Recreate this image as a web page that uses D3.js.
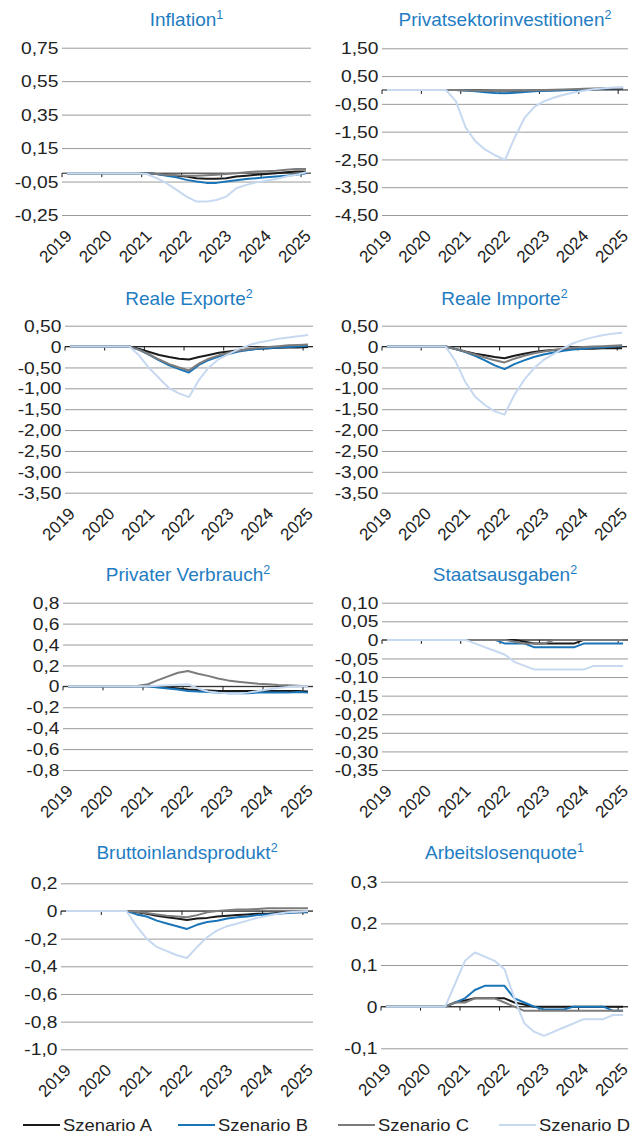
<!DOCTYPE html>
<html>
<head>
<meta charset="utf-8">
<script src="https://cdn.jsdelivr.net/npm/d3@7"></script>
<style>
  body { margin: 0; background: #fff; }
  svg text { font-family: "Liberation Sans", Arial, Helvetica, sans-serif; }
</style>
</head>
<body>
<div id="chart"></div>
<script>

// quarters on the x axis, labels only on the first quarter of each year
var quarters = ["2019Q1","2019Q2","2019Q3","2019Q4","2020Q1","2020Q2","2020Q3","2020Q4",
                "2021Q1","2021Q2","2021Q3","2021Q4","2022Q1","2022Q2","2022Q3","2022Q4",
                "2023Q1","2023Q2","2023Q3","2023Q4","2024Q1","2024Q2","2024Q3","2024Q4","2025Q1"];
var yearLabels = ["2019","2020","2021","2022","2023","2024","2025"];
var scenarios = ["Szenario A","Szenario B","Szenario C","Szenario D"];

// Inflation
var inflTicks  = [0.75, 0.55, 0.35, 0.15, -0.05, -0.25];
var inflLabels = ["0,75","0,55","0,35","0,15","-0,05","-0,25"];
var inflA = [0,0,0,0,0,0,0,0,0,-0.005,-0.01,-0.015,-0.02,-0.03,-0.033,-0.033,-0.03,-0.02,-0.015,-0.01,-0.005,0,0.005,0.01,0.01];
var inflB = [0,0,0,0,0,0,0,0,0,-0.005,-0.015,-0.025,-0.04,-0.05,-0.058,-0.058,-0.05,-0.042,-0.035,-0.03,-0.025,-0.02,-0.015,-0.01,0];
var inflC = [0,0,0,0,0,0,0,0,0,-0.005,-0.01,-0.012,-0.015,-0.015,-0.012,-0.01,-0.005,0,0.005,0.01,0.012,0.015,0.02,0.025,0.025];
var inflD = [0,0,0,0,0,0,0,0,-0.005,-0.03,-0.06,-0.1,-0.14,-0.17,-0.17,-0.16,-0.14,-0.09,-0.07,-0.055,-0.045,-0.035,-0.02,-0.01,0.005];

// Privatsektorinvestitionen
var invTicks  = [1.5, 0.5, -0.5, -1.5, -2.5, -3.5, -4.5];
var invLabels = ["1,50","0,50","-0,50","-1,50","-2,50","-3,50","-4,50"];
var invA = [0,0,0,0,0,0,0,0,-0.01,-0.02,-0.03,-0.04,-0.05,-0.045,-0.035,-0.025,-0.015,-0.01,0,0.01,0.02,0.03,0.04,0.04,0.05];
var invB = [0,0,0,0,0,0,0,0,-0.02,-0.05,-0.08,-0.11,-0.12,-0.1,-0.07,-0.05,-0.03,-0.02,-0.01,0,0.02,0.03,0.05,0.06,0.07];
var invC = [0,0,0,0,0,0,0,0,-0.01,-0.02,-0.03,-0.035,-0.04,-0.03,-0.02,-0.01,0,0.01,0.02,0.03,0.04,0.05,0.06,0.07,0.08];
var invD = [0,0,0,0,0,0,0,-0.4,-1.35,-1.85,-2.15,-2.35,-2.52,-1.7,-1.0,-0.6,-0.4,-0.27,-0.17,-0.09,-0.03,0.03,0.06,0.09,0.1];

// Reale Exporte
var expTicks  = [0.5, 0, -0.5, -1, -1.5, -2, -2.5, -3, -3.5];
var expLabels = ["0,50","0","-0,50","-1,00","-1,50","-2,00","-2,50","-3,00","-3,50"];
var expA = [0,0,0,0,0,0,0,-0.06,-0.13,-0.2,-0.25,-0.29,-0.31,-0.25,-0.2,-0.15,-0.12,-0.09,-0.07,-0.05,-0.04,-0.03,-0.02,-0.02,-0.01];
var expB = [0,0,0,0,0,0,0,-0.08,-0.2,-0.33,-0.45,-0.54,-0.62,-0.44,-0.32,-0.24,-0.18,-0.12,-0.08,-0.055,-0.04,-0.025,-0.01,0,0.02];
var expC = [0,0,0,0,0,0,0,-0.08,-0.19,-0.31,-0.42,-0.5,-0.57,-0.41,-0.29,-0.21,-0.15,-0.1,-0.06,-0.03,-0.01,0.01,0.03,0.04,0.05];
var expD = [0,0,0,0,0,0,0,-0.22,-0.52,-0.76,-1.0,-1.12,-1.21,-0.8,-0.5,-0.3,-0.18,-0.06,0.03,0.1,0.14,0.19,0.22,0.25,0.28];

// Reale Importe
var impTicks  = [0.5, 0, -0.5, -1, -1.5, -2, -2.5, -3, -3.5];
var impLabels = ["0,50","0","-0,50","-1,00","-1,50","-2,00","-2,50","-3,00","-3,50"];
var impA = [0,0,0,0,0,0,0,-0.06,-0.12,-0.17,-0.21,-0.25,-0.28,-0.22,-0.17,-0.13,-0.1,-0.08,-0.07,-0.06,-0.05,-0.05,-0.04,-0.04,-0.04];
var impB = [0,0,0,0,0,0,0,-0.06,-0.13,-0.22,-0.33,-0.45,-0.54,-0.42,-0.33,-0.25,-0.19,-0.14,-0.1,-0.07,-0.05,-0.03,-0.02,0,0.02];
var impC = [0,0,0,0,0,0,0,-0.06,-0.12,-0.19,-0.26,-0.33,-0.38,-0.29,-0.22,-0.16,-0.12,-0.08,-0.05,-0.03,-0.01,0,0.01,0.02,0.03];
var impD = [0,0,0,0,0,0,0,-0.35,-0.85,-1.2,-1.4,-1.55,-1.63,-1.16,-0.8,-0.52,-0.32,-0.18,-0.04,0.08,0.16,0.22,0.27,0.31,0.33];

// Privater Verbrauch
var konTicks  = [0.8, 0.6, 0.4, 0.2, 0, -0.2, -0.4, -0.6, -0.8];
var konLabels = ["0,8","0,6","0,4","0,2","0","-0,2","-0,4","-0,6","-0,8"];
var konA = [0,0,0,0,0,0,0,0,0,-0.005,-0.01,-0.02,-0.03,-0.035,-0.04,-0.045,-0.045,-0.045,-0.045,-0.045,-0.045,-0.045,-0.045,-0.045,-0.05];
var konB = [0,0,0,0,0,0,0,0,0,-0.01,-0.02,-0.03,-0.045,-0.05,-0.055,-0.06,-0.065,-0.065,-0.065,-0.06,-0.06,-0.06,-0.06,-0.055,-0.06];
var konC = [0,0,0,0,0,0,0,0.005,0.02,0.06,0.095,0.13,0.146,0.12,0.1,0.075,0.057,0.045,0.035,0.025,0.02,0.013,0.01,0.005,0];
var konD = [0,0,0,0,0,0,0,0,0,0.005,0.01,0.015,0.02,-0.02,-0.05,-0.06,-0.065,-0.065,-0.06,-0.045,-0.03,-0.015,-0.005,0,0];

// Staatsausgaben (the "-0,02" label is as printed in the source)
var govTicks  = [0.1, 0.05, 0, -0.05, -0.1, -0.15, -0.2, -0.25, -0.3, -0.35];
var govLabels = ["0,10","0,05","0","-0,05","-0,10","-0,15","-0,02","-0,25","-0,30","-0,35"];
var govA = [0,0,0,0,0,0,0,0,0,0,0,0,0,0,-0.005,-0.01,-0.01,-0.01,-0.01,-0.01,0,0,0,0,0];
var govB = [0,0,0,0,0,0,0,0,0,0,0,0,-0.01,-0.01,-0.01,-0.02,-0.02,-0.02,-0.02,-0.02,-0.01,-0.01,-0.01,-0.01,-0.01];
var govC = [0,0,0,0,0,0,0,0,0,0,0,0,0,-0.005,-0.01,-0.01,-0.01,0,0,0,0,0,0,0,0];
var govD = [0,0,0,0,0,0,0,0,0,-0.01,-0.02,-0.03,-0.04,-0.06,-0.07,-0.08,-0.08,-0.08,-0.08,-0.08,-0.08,-0.07,-0.07,-0.07,-0.07];

// Bruttoinlandsprodukt
var gdpTicks  = [0.2, 0, -0.2, -0.4, -0.6, -0.8, -1.0];
var gdpLabels = ["0,2","0","-0,2","-0,4","-0,6","-0,8","-1,0"];
var gdpA = [0,0,0,0,0,0,0,-0.01,-0.02,-0.035,-0.045,-0.055,-0.065,-0.055,-0.05,-0.04,-0.035,-0.03,-0.025,-0.02,-0.02,-0.015,-0.01,-0.01,-0.01];
var gdpB = [0,0,0,0,0,0,0,-0.025,-0.04,-0.07,-0.09,-0.11,-0.13,-0.1,-0.08,-0.07,-0.055,-0.045,-0.04,-0.03,-0.025,-0.02,-0.015,-0.01,-0.005];
var gdpC = [0,0,0,0,0,0,0,-0.005,-0.015,-0.025,-0.035,-0.04,-0.045,-0.03,-0.01,0,0.005,0.01,0.01,0.015,0.02,0.02,0.02,0.02,0.02];
var gdpD = [0,0,0,0,0,0,0,-0.11,-0.2,-0.26,-0.29,-0.32,-0.34,-0.26,-0.19,-0.14,-0.11,-0.09,-0.07,-0.05,-0.035,-0.02,-0.01,-0.005,0];

// Arbeitslosenquote
var unTicks  = [0.3, 0.2, 0.1, 0, -0.1];
var unLabels = ["0,3","0,2","0,1","0","-0,1"];
var unA = [0,0,0,0,0,0,0,0.01,0.015,0.02,0.02,0.02,0.02,0.01,0.005,0,0,0,0,0,0,0,0,0,0];
var unB = [0,0,0,0,0,0,0,0.01,0.02,0.04,0.05,0.05,0.05,0.02,0.01,0,-0.007,-0.007,-0.007,0,0,0,0,-0.01,-0.01];
var unC = [0,0,0,0,0,0,0,0.01,0.01,0.02,0.02,0.02,0.01,0,-0.01,-0.01,-0.01,-0.01,-0.01,-0.01,-0.01,-0.01,-0.01,-0.01,-0.01];
var unD = [0,0,0,0,0,0,0,0.055,0.11,0.13,0.12,0.11,0.09,0.02,-0.04,-0.06,-0.07,-0.06,-0.05,-0.04,-0.03,-0.03,-0.03,-0.02,-0.02];


var colors = ["#1a1a1a", "#1a74b8", "#7c7c7c", "#c6d9f1"];
var titleColor = "#1f7dc2";

var svg = d3.select("#chart").append("svg")
    .attr("width", 642)
    .attr("height", 1134);

// panel frames (plot area edges in pixels)
var panels = [
  {title: "Inflation", sup: "1", series: [inflA, inflB, inflC, inflD], ticks: inflTicks, labels: inflLabels,
   left: 62, right: 311, top: 47.7, bottom: 215, titleY: 26},
  {title: "Privatsektorinvestitionen", sup: "2", series: [invA, invB, invC, invD], ticks: invTicks, labels: invLabels,
   left: 382, right: 628, top: 48.3, bottom: 215, titleY: 26},
  {title: "Reale Exporte", sup: "2", series: [expA, expB, expC, expD], ticks: expTicks, labels: expLabels,
   left: 65, right: 313, top: 325.7, bottom: 492.7, titleY: 305},
  {title: "Reale Importe", sup: "2", series: [impA, impB, impC, impD], ticks: impTicks, labels: impLabels,
   left: 382, right: 627, top: 325.7, bottom: 492.7, titleY: 305},
  {title: "Privater Verbrauch", sup: "2", series: [konA, konB, konC, konD], ticks: konTicks, labels: konLabels,
   left: 63, right: 313, top: 602.7, bottom: 770, titleY: 581},
  {title: "Staatsausgaben", sup: "2", series: [govA, govB, govC, govD], ticks: govTicks, labels: govLabels,
   left: 382, right: 628, top: 602.7, bottom: 770, titleY: 581},
  {title: "Bruttoinlandsprodukt", sup: "2", series: [gdpA, gdpB, gdpC, gdpD], ticks: gdpTicks, labels: gdpLabels,
   left: 61, right: 313, top: 883.3, bottom: 1049.3, titleY: 859},
  {title: "Arbeitslosenquote", sup: "1", series: [unA, unB, unC, unD], ticks: unTicks, labels: unLabels,
   left: 381, right: 628, top: 881.7, bottom: 1048.3, titleY: 859}
];

panels.forEach(drawPanel);

function drawPanel(p) {
  var g = svg.append("g");

  var x = d3.scaleBand().domain(quarters).range([p.left, p.right]);
  var y = d3.scaleLinear().domain(d3.extent(p.ticks)).range([p.bottom, p.top]);

  // title with superscript
  var t = g.append("text")
      .attr("x", (p.left + p.right) / 2)
      .attr("y", p.titleY)
      .attr("text-anchor", "middle")
      .attr("font-size", 19)
      .attr("fill", titleColor)
      .text(p.title);
  t.append("tspan")
      .attr("font-size", 12.5)
      .attr("dy", -7.5)
      .text(p.sup);

  // y axis: grid + labels
  var yAxis = d3.axisLeft(y)
      .tickValues(p.ticks)
      .tickFormat(function(d, i) { return p.labels[i]; })
      .tickSize(-(p.right - p.left))
      .tickPadding(4);

  g.append("g")
      .attr("transform", "translate(" + p.left + ",0)")
      .call(yAxis)
      .call(function(a) { a.select(".domain").remove(); })
      .call(function(a) {
        a.selectAll("line").attr("stroke", "#9a9a9a").attr("stroke-width", 1);
      })
      .call(function(a) {
        a.selectAll("text")
          .attr("x", -3)
          .attr("dy", "0.35em")
          .attr("transform", "scale(1.2,1)")
          .attr("font-size", 16)
          .attr("fill", "#222")
          .style("font-family", '"Liberation Sans", Arial, sans-serif');
      });

  // zero line with tick marks at year boundaries
  var y0 = y(0);
  g.append("line")
      .attr("x1", p.left).attr("x2", p.right)
      .attr("y1", y0).attr("y2", y0)
      .attr("stroke", "#1a1a1a").attr("stroke-width", 1);

  var yearStarts = quarters.filter(function(q, i) { return i % 4 === 0; });
  g.selectAll(".xtick")
      .data(yearStarts).enter()
      .append("line")
      .attr("x1", function(q) { return x(q); })
      .attr("x2", function(q) { return x(q); })
      .attr("y1", y0).attr("y2", y0 + 4)
      .attr("stroke", "#1a1a1a");

  // x axis labels (year, rotated)
  var xAxis = d3.axisBottom(x)
      .tickValues(yearLabels.map(function(yl) { return yl + "Q1"; }))
      .tickFormat(function(q) { return q.slice(0, 4); })
      .tickSize(0);

  g.append("g")
      .attr("transform", "translate(0," + p.bottom + ")")
      .call(xAxis)
      .call(function(a) { a.select(".domain").remove(); })
      .call(function(a) {
        a.selectAll("text")
          .attr("x", 0).attr("y", 0).attr("dy", null)
          .attr("text-anchor", "end")
          .attr("transform", "translate(6,22) rotate(-45)")
          .attr("font-size", 17)
          .attr("fill", "#222")
          .style("font-family", '"Liberation Sans", Arial, sans-serif');
      });

  // scenario lines
  var line = d3.line()
      .x(function(d, i) { return x(quarters[i]) + x.bandwidth() / 2; })
      .y(function(d) { return y(d); });

  p.series.forEach(function(s, k) {
    g.append("path")
        .datum(s)
        .attr("fill", "none")
        .attr("stroke", colors[k])
        .attr("stroke-width", 2)
        .attr("stroke-linejoin", "round")
        .attr("d", line);
  });
}

// legend
var legendX = [23, 178, 338, 499];
var legend = svg.append("g").attr("transform", "translate(0,1125)");
scenarios.forEach(function(name, k) {
  legend.append("line")
      .attr("x1", legendX[k]).attr("x2", legendX[k] + 37)
      .attr("y1", 0).attr("y2", 0)
      .attr("stroke", colors[k]).attr("stroke-width", 2);
  legend.append("text")
      .attr("transform", "translate(" + (legendX[k] + 40) + ",6) scale(1.15,1)")
      .attr("font-size", 16)
      .attr("fill", "#222")
      .text(name);
});

</script>
</body>
</html>
